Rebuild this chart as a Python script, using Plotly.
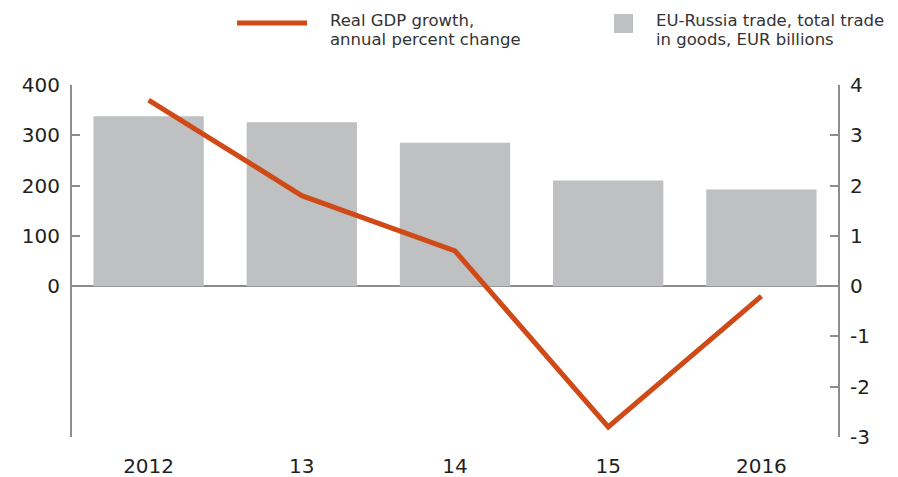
import plotly.graph_objects as go

years = ["2012", "13", "14", "15", "2016"]
trade = [338, 326, 285, 210, 192]          # EUR billions (left axis)
gdp_growth = [3.7, 1.8, 0.7, -2.8, -0.2]   # percent (right axis)

left_ticks = [0, 100, 200, 300, 400]
right_ticks = [-3, -2, -1, 0, 1, 2, 3, 4]
right_labels = ["-3", "-2", "-1", "0", "1", "2", "3", "4"]

AX = "#8d8d90"
TXT = "#231f20"
BAR = "#bfc0c2"
LINE = "#cf4a17"
FONT = "DejaVu Sans, Verdana, sans-serif"

# figure geometry (page body adds an 8px margin)
W, H = 881, 469
L, R, T, B = 64, 51, 77, 40
PW, PH = W - L - R, H - T - B


def px(x):  # figure pixel -> paper x
    return (x - L) / PW


def py(y):  # figure pixel (from top) -> paper y
    return (H - B - y) / PH


fig = go.Figure()
fig.add_trace(go.Bar(x=years, y=trade, marker=dict(color=BAR, line=dict(width=0)),
                     name="EU-Russia trade, total trade in goods, EUR billions",
                     yaxis="y", showlegend=False))
fig.add_trace(go.Scatter(x=years, y=gdp_growth, mode="lines",
                         line=dict(color=LINE, width=5),
                         name="Real GDP growth, annual percent change",
                         yaxis="y2", showlegend=False))

fig.update_layout(
    width=W, height=H,
    margin=dict(l=L, r=R, t=T, b=B),
    paper_bgcolor="white", plot_bgcolor="white",
    bargap=0.28,
    font=dict(family=FONT, color=TXT),
    xaxis=dict(showline=False, showgrid=False, ticks="", zeroline=False, automargin=False,
               tickfont=dict(size=20, color=TXT), ticklabelstandoff=15),
    yaxis=dict(range=[-300, 400], tickvals=left_ticks, showgrid=False, automargin=False,
               showline=True, linecolor=AX, linewidth=2,
               ticks="inside", ticklen=8, tickcolor=AX, tickwidth=2,
               zeroline=True, zerolinecolor=AX, zerolinewidth=2,
               tickfont=dict(size=20, color=TXT), ticklabelstandoff=6),
    yaxis2=dict(range=[-3, 4], tickvals=right_ticks, ticktext=right_labels,
                overlaying="y", side="right", automargin=False,
                showgrid=False, showline=True, linecolor=AX, linewidth=2,
                ticks="inside", ticklen=8, tickcolor=AX, tickwidth=2,
                zeroline=False, tickfont=dict(size=20, color=TXT),
                ticklabelstandoff=6),
)

# Legend drawn manually to match the reference layout
fig.add_shape(type="line", xref="paper", yref="paper",
              x0=px(229), x1=px(299), y0=py(15), y1=py(15),
              line=dict(color=LINE, width=5))
fig.add_shape(type="rect", xref="paper", yref="paper",
              x0=px(606), x1=px(625), y0=py(25), y1=py(6),
              fillcolor=BAR, line=dict(width=0))

legend_lines = [
    (320, 13, "Real GDP growth,"),
    (320, 32, "annual percent change"),
    (646, 13, "EU-Russia trade, total trade"),
    (646, 32, "in goods, EUR billions"),
]
for lx, ly, txt in legend_lines:
    fig.add_annotation(xref="paper", yref="paper", x=px(lx), y=py(ly),
                       xanchor="left", yanchor="middle", align="left", showarrow=False,
                       text=txt, font=dict(size=16.5, color="#333333", family=FONT))

fig.write_html("out.html")
